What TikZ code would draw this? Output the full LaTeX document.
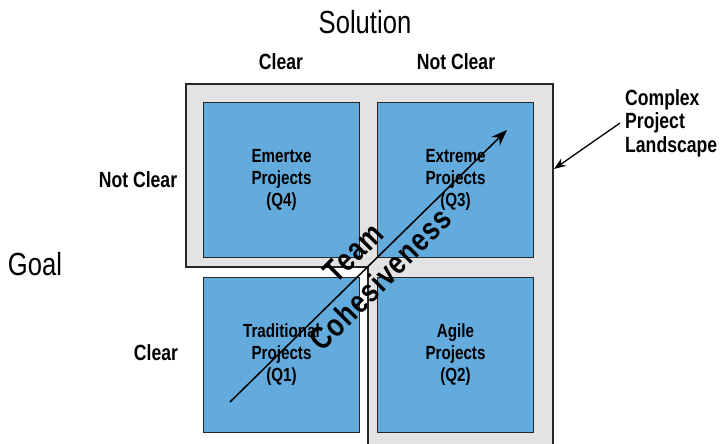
\documentclass[tikz,border=0pt]{standalone}
\usepackage{fontspec}
\setmainfont{Liberation Sans}[FakeStretch=0.8]
\usetikzlibrary{arrows.meta}
\definecolor{quadblue}{RGB}{99,170,221}
\definecolor{landgray}{RGB}{227,227,227}
\tikzset{
  quad/.style={draw=black!85, line width=1.2pt, fill=quadblue, minimum width=156pt, minimum height=155pt, align=center, inner sep=0pt,
    font=\bfseries\fontsize{19}{22}\selectfont},
  axistitle/.style={font=\fontsize{32}{36}\selectfont, inner sep=0pt},
  axislabel/.style={font=\bfseries\fontsize{22}{24}\selectfont, inner sep=0pt},
  bigarrow/.style={line width=1.5pt, -{Stealth[length=16pt,width=12pt]}},
  smallarrow/.style={line width=1.3pt, -{Stealth[length=12pt,width=9pt]}},
}
\begin{document}
\begin{tikzpicture}[x=1pt,y=-1pt]
\useasboundingbox (0,0) rectangle (720,444);
\begin{scope}
\clip (0,0) rectangle (720,444);
% L-shaped complex project landscape
\coordinate (g1) at (186,84);
\coordinate (g2) at (553,84);
\coordinate (g3) at (553,460);
\coordinate (g4) at (368,460);
\coordinate (g5) at (368,267);
\coordinate (g6) at (186,267);
\draw[line width=1.2pt, draw=black!85, fill=landgray] (g1) -- (g2) -- (g3) -- (g4) -- (g5) -- (g6) -- cycle;
\end{scope}
% quadrants
\node[quad] (q4) at (281.5,180) {Emertxe\\Projects\\(Q4)};
\node[quad] (q3) at (455.5,180) {Extreme\\Projects\\(Q3)};
\node[quad] (q1) at (281.5,355) {Traditional\\Projects\\(Q1)};
\node[quad] (q2) at (455.5,355) {Agile\\Projects\\(Q2)};
% titles and labels
\node[axistitle] (sol) at (365,22) {Solution};
\node[axistitle] (goal) at (35,264) {Goal};
\node[axislabel] (sclear) at (281,62) {Clear};
\node[axislabel] (snot) at (456,62) {Not Clear};
\node[axislabel] (gnot) at (138,180) {Not Clear};
\node[axislabel] (gclear) at (156,353) {Clear};
\node[axislabel, anchor=west, align=left, font=\bfseries\fontsize{22}{23.5}\selectfont] (cpl) at (625,123) {Complex\\Project\\Landscape};
\coordinate (cpltip) at (554,169);
\draw[smallarrow] ([xshift=-5pt]cpl.west) -- (cpltip);
% team cohesiveness arrow
\coordinate (ta) at (230,402);
\coordinate (tb) at (507,130);
\draw[bigarrow] (ta) -- (tb);
\node[rotate=45, align=center, inner sep=0pt, font=\bfseries\fontsize{32}{38}\selectfont\addfontfeature{LetterSpace=4}] (team) at (367,266) {Team\\Cohesiveness};
\end{tikzpicture}
\end{document}
